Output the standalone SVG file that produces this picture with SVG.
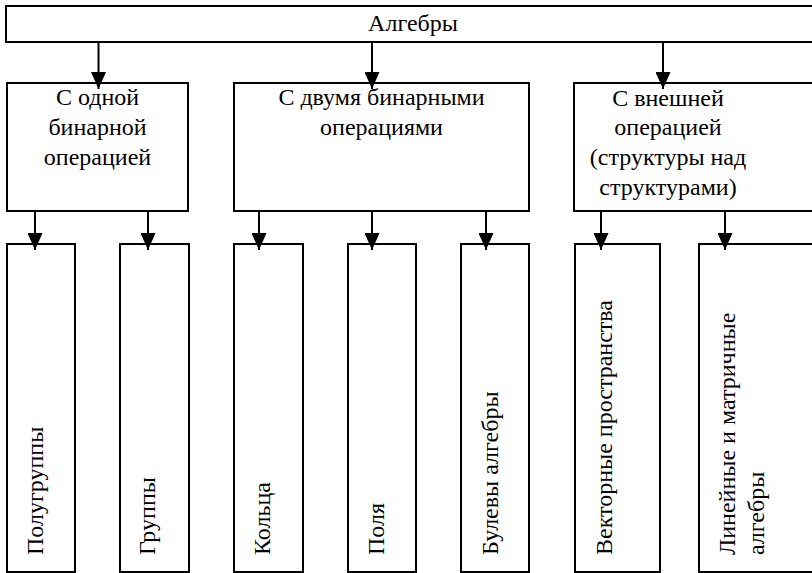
<svg xmlns="http://www.w3.org/2000/svg" width="812" height="573" viewBox="0 0 812 573" font-family="Liberation Serif, Times New Roman, serif" font-size="24">
<style>
rect{fill:#fff;stroke:#000;stroke-width:2}
text{fill:#000}
.c{text-anchor:middle}
.conn line{stroke:#000;stroke-width:2;marker-end:url(#ah)}
</style>
<defs>
<marker id="ah" markerUnits="userSpaceOnUse" viewBox="0 0 17 15" refX="17" refY="7.5" markerWidth="17" markerHeight="15" orient="auto">
<path d="M0,0 L17,7.5 L0,15 Z" fill="#000"/>
</marker>
</defs>
<rect x="0" y="0" width="812" height="573" style="fill:#fff;stroke:none"/>
<g id="root"><rect x="6" y="6" width="830" height="36"/><text class="c" x="413" y="31">Алгебры</text></g>
<g id="one"><rect x="7" y="83" width="181" height="128"/>
<text class="c" x="97.5" y="105">С одной</text><text class="c" x="97.5" y="135">бинарной</text><text class="c" x="97.5" y="165">операцией</text></g>
<g id="two"><rect x="234" y="83" width="295" height="128"/>
<text class="c" x="381.5" y="105">С двумя бинарными</text><text class="c" x="381.5" y="135">операциями</text></g>
<g id="ext"><rect x="574" y="83" width="260" height="128"/>
<text class="c" x="668" y="105.5">С внешней</text><text class="c" x="668" y="135.3">операцией</text><text class="c" x="668" y="165.1">(структуры над</text><text class="c" x="668" y="194.9">структурами)</text></g>
<g id="semigroups"><rect x="7" y="244" width="68" height="328"/><text transform="translate(43,555) rotate(-90)">Полугруппы</text></g>
<g id="groups"><rect x="120" y="244" width="69" height="328"/><text transform="translate(155,555) rotate(-90)">Группы</text></g>
<g id="rings"><rect x="234" y="244" width="69" height="328"/><text transform="translate(269.5,555) rotate(-90)">Кольца</text></g>
<g id="fields"><rect x="348" y="244" width="68" height="328"/><text transform="translate(384,555) rotate(-90)">Поля</text></g>
<g id="boolean"><rect x="461" y="244" width="68" height="328"/><text transform="translate(497.5,555) rotate(-90)">Булевы алгебры</text></g>
<g id="vector"><rect x="575" y="244" width="85" height="328"/><text transform="translate(612,555) rotate(-90)">Векторные пространства</text></g>
<g id="linear"><rect x="699" y="244" width="140" height="328"/><text transform="translate(735,555) rotate(-90)">Линейные и матричные</text><text transform="translate(764,555) rotate(-90)">алгебры</text></g>
<g class="conn" id="connectors">
<line x1="98.5" y1="42" x2="98.5" y2="89"/>
<line x1="372" y1="42" x2="372" y2="89"/>
<line x1="663" y1="42" x2="663" y2="89"/>
<line x1="35" y1="211" x2="35" y2="250"/>
<line x1="148" y1="211" x2="148" y2="250"/>
<line x1="259" y1="211" x2="259" y2="250"/>
<line x1="372" y1="211" x2="372" y2="250"/>
<line x1="486" y1="211" x2="486" y2="250"/>
<line x1="601" y1="211" x2="601" y2="250"/>
<line x1="725" y1="211" x2="725" y2="250"/>
</g>
</svg>
